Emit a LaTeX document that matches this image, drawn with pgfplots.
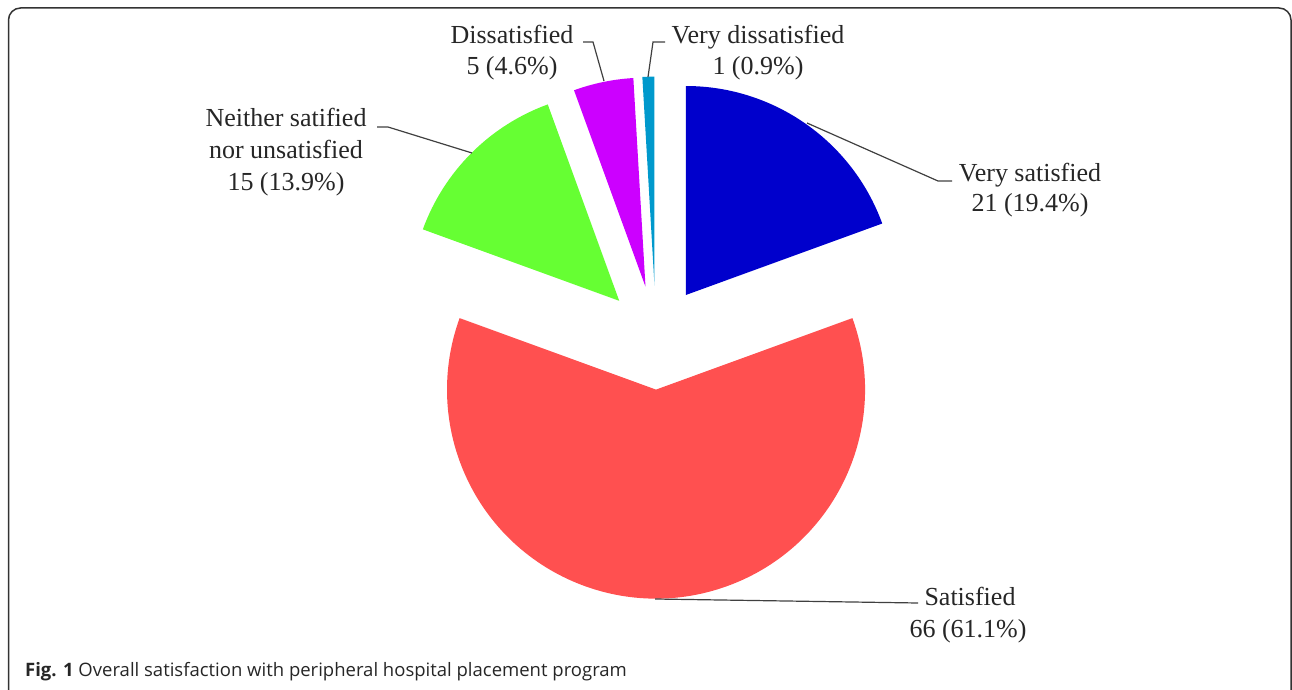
\documentclass[border=0pt]{standalone}
\usepackage{pgfplots}
\pgfplotsset{compat=1.18}
\usepackage{fontspec}
\setmainfont{Liberation Serif}
\newfontfamily\capfont{Open Sans}
\definecolor{cVS}{HTML}{0000CC}
\definecolor{cS}{HTML}{FF5050}
\definecolor{cN}{HTML}{66FF33}
\definecolor{cD}{HTML}{CC00FF}
\definecolor{cVD}{HTML}{0099CC}
\definecolor{lead}{HTML}{404040}
\begin{document}
\begin{tikzpicture}
% data: counts
\def\vVS{21}\def\vS{66}\def\vN{15}\def\vD{5}\def\vVD{1}
\pgfmathsetmacro\tot{\vVS+\vS+\vN+\vD+\vVD}
\pgfmathsetmacro\k{360/\tot}
\def\cx{656}\def\cy{351.4}\def\ex{52}\def\R{209}
% angles (clockwise from 90)
\pgfmathsetmacro\sVS{90}
\pgfmathsetmacro\eVS{\sVS-\k*\vVS}
\pgfmathsetmacro\eS{\eVS-\k*\vS}
\pgfmathsetmacro\eN{\eS-\k*\vN}
\pgfmathsetmacro\eD{\eN-\k*\vD}
\pgfmathsetmacro\eVD{\eD-\k*\vVD}
% tips
\pgfmathsetmacro\mVS{(\sVS+\eVS)/2}\pgfmathsetmacro\xVS{\cx+\ex*cos(\mVS)}\pgfmathsetmacro\yVS{\cy+\ex*sin(\mVS)}
\pgfmathsetmacro\mS{(\eVS+\eS)/2}\pgfmathsetmacro\xS{\cx+\ex*cos(\mS)}\pgfmathsetmacro\yS{\cy+\ex*sin(\mS)}
\pgfmathsetmacro\mN{(\eS+\eN)/2}\pgfmathsetmacro\xN{\cx+\ex*cos(\mN)}\pgfmathsetmacro\yN{\cy+\ex*sin(\mN)}
\pgfmathsetmacro\mD{(\eN+\eD)/2}\pgfmathsetmacro\xD{\cx+\ex*cos(\mD)}\pgfmathsetmacro\yD{\cy+\ex*sin(\mD)}
\pgfmathsetmacro\mVD{(\eD+\eVD)/2}\pgfmathsetmacro\xVD{\cx+\ex*cos(\mVD)}\pgfmathsetmacro\yVD{\cy+\ex*sin(\mVD)}
\begin{axis}[
  at={(0,0)}, anchor=south west,
  width=1292pt, height=689pt, scale only axis,
  xmin=0, xmax=1292, ymin=0, ymax=689,
  hide axis, clip=false,
]
\fill[cVS] (\xVS,\yVS) -- ++(\sVS:\R pt) arc[start angle=\sVS, end angle=\eVS, radius=\R pt] -- cycle;
\fill[cS] (\xS,\yS) -- ++(\eVS:\R pt) arc[start angle=\eVS, end angle=\eS, radius=\R pt] -- cycle;
\fill[cN] (\xN,\yN) -- ++(\eS:\R pt) arc[start angle=\eS, end angle=\eN, radius=\R pt] -- cycle;
\fill[cD] (\xD,\yD) -- ++(\eN:\R pt) arc[start angle=\eN, end angle=\eD, radius=\R pt] -- cycle;
\fill[cVD] (\xVD,\yVD) -- ++(\eD:\R pt) arc[start angle=\eD, end angle=\eVD, radius=\R pt] -- cycle;
% leader lines
\draw[lead, line width=1.2pt] (583,647) -- (593,647) -- (604,608);
\draw[lead, line width=1.2pt] (665,647) -- (653,647) -- (648,612);
\draw[lead, line width=1.2pt] (377,562) -- (388,562) -- (472,536);
\draw[lead, line width=1.2pt] (807,566) -- (938,508) -- (952,508);
\draw[lead, line width=1.2pt] (655,90) -- (918,86);
% labels
\tikzset{lab/.style={anchor=base, inner sep=0pt, font=\fontsize{26}{31}\selectfont, text=black!85}}
\node[lab] at (512,645) {Dissatisfied};
\node[lab] at (512,614) {5 (4.6\%)};
\node[lab] at (758,645) {Very dissatisfied};
\node[lab] at (758,614) {1 (0.9\%)};
\node[lab] at (286,562) {Neither satified};
\node[lab] at (286,530) {nor unsatisfied};
\node[lab] at (286,498) {15 (13.9\%)};
\node[lab] at (1030,507) {Very satisfied};
\node[lab] at (1030,477) {21 (19.4\%)};
\node[lab] at (970,84) {Satisfied};
\node[lab] at (968,52) {66 (61.1\%)};
% caption
\node[anchor=base west, inner sep=0pt, font=\capfont\fontsize{18.5}{22}\selectfont, text=black!85] at (25,13) {\textbf{Fig. 1} Overall satisfaction with peripheral hospital placement program};
% frame
\draw[black!80, line width=1.5pt] (8.5,-5) -- (8.5,669) arc[start angle=180, end angle=90, radius=12pt] -- (1279,681) arc[start angle=90, end angle=0, radius=12pt] -- (1291,-5);
\end{axis}
\pgfresetboundingbox
\path[use as bounding box] (0,0) rectangle (1292pt,689pt);
\end{tikzpicture}
\end{document}
